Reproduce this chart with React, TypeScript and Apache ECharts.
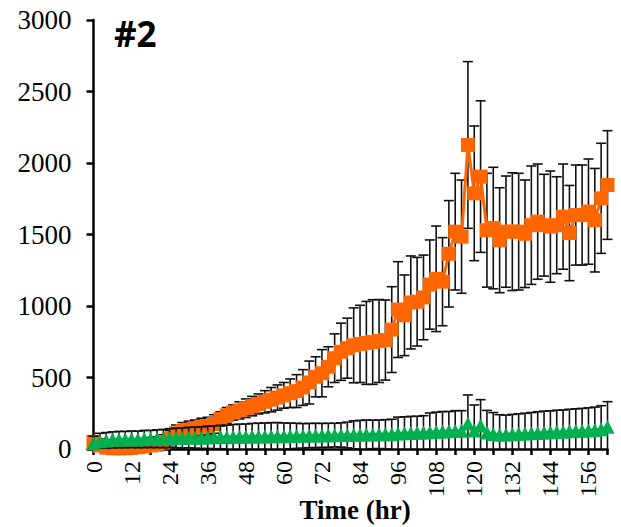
import React, { useEffect, useRef } from 'react';
import * as echarts from 'echarts';

const hours = [
  0, 2, 4, 6, 8, 10, 12, 14, 16, 18,
  20, 22, 24, 26, 28, 30, 32, 34, 36, 38,
  40, 42, 44, 46, 48, 50, 52, 54, 56, 58,
  60, 62, 64, 66, 68, 70, 72, 74, 76, 78,
  80, 82, 84, 86, 88, 90, 92, 94, 96, 98,
  100, 102, 104, 106, 108, 110, 112, 114, 116, 118,
  120, 122, 124, 126, 128, 130, 132, 134, 136, 138,
  140, 142, 144, 146, 148, 150, 152, 154, 156, 158,
  160, 162,
];

const orangeMean = [
  50, 25, 10, 5, 5, 5, 8, 12, 18, 25,
  30, 45, 70, 110, 125, 135, 145, 155, 160, 175,
  210, 235, 255, 270, 285, 300, 315, 330, 345, 360,
  375, 390, 405, 430, 465, 505, 530, 575, 635, 680,
  705, 725, 735, 742, 748, 755, 762, 835, 975, 935,
  1025, 1030, 1060, 1150, 1190, 1170, 1365, 1520, 1485, 2126,
  1788, 1905, 1530, 1545, 1460, 1520, 1520, 1520, 1505, 1565,
  1590, 1565, 1555, 1565, 1625, 1510, 1636, 1636, 1660, 1600,
  1753, 1846,
];

const orangeSD = [
  40, 45, 48, 50, 50, 52, 52, 55, 55, 55,
  55, 55, 58, 58, 60, 60, 58, 60, 62, 65,
  50, 55, 53, 60, 65, 68, 70, 78, 85, 88,
  90, 100, 115, 125, 150, 140, 165, 140, 170, 200,
  210, 262, 270, 290, 296, 290, 280, 300, 335, 282,
  325, 310, 296, 312, 369, 308, 372, 408, 396, 583,
  471, 530, 398, 425, 367, 389, 412, 408, 376, 414,
  403, 356, 389, 339, 368, 333, 350, 350, 368, 362,
  385, 380,
];

const greenMean = [
  40, 55, 60, 64, 66, 66, 68, 67, 70, 70,
  72, 73, 76, 78, 77, 80, 80, 79, 82, 82,
  84, 83, 85, 86, 85, 87, 88, 88, 89, 90,
  90, 91, 92, 92, 94, 95, 95, 96, 97, 98,
  98, 99, 100, 101, 102, 103, 103, 104, 108, 110,
  112, 113, 115, 117, 120, 122, 124, 126, 128, 178,
  130, 165, 115, 105, 100, 102, 104, 106, 108, 110,
  112, 115, 117, 119, 121, 124, 126, 128, 130, 133,
  138, 155,
];

const greenSD = [
  50, 55, 55, 56, 57, 57, 58, 58, 60, 60,
  62, 64, 66, 68, 70, 72, 74, 76, 78, 80,
  82, 84, 86, 88, 90, 92, 93, 94, 95, 95,
  92, 90, 88, 86, 85, 85, 84, 84, 83, 85,
  90, 98, 100, 102, 100, 100, 102, 104, 115, 115,
  116, 116, 118, 135, 138, 140, 138, 142, 140, 200,
  178, 180, 155, 150, 140, 135, 138, 140, 142, 145,
  148, 150, 150, 152, 152, 154, 155, 156, 158, 160,
  165, 176,
];

const errData = (m: number[], s: number[]) => hours.map((h, i) => [h, m[i], s[i]]);
const lineData = (m: number[]) => hours.map((h, i) => [h, m[i]]);

const renderErr = (_params: any, api: any) => {
  const x = api.value(0);
  const m = api.value(1);
  const s = api.value(2);
  const top = api.coord([x, m + s]);
  const lowVal = m - s;
  const bot = api.coord([x, Math.max(lowVal, 0)]);
  const half = 5;
  const style = { stroke: '#111', lineWidth: 1.6 };
  const children: any[] = [
    { type: 'line', shape: { x1: top[0], y1: top[1], x2: bot[0], y2: bot[1] }, style },
    { type: 'line', shape: { x1: top[0] - half, y1: top[1], x2: top[0] + half, y2: top[1] }, style },
  ];
  if (lowVal > 0) {
    children.push({ type: 'line', shape: { x1: bot[0] - half, y1: bot[1], x2: bot[0] + half, y2: bot[1] }, style });
  }
  return { type: 'group', children };
};

export default function App() {
  const ref = useRef<HTMLDivElement>(null);
  useEffect(() => {
    if (!ref.current) return;
    const chart = echarts.init(ref.current, null, { renderer: 'svg' });
    const serif = 'Liberation Serif';
    chart.setOption({
      animation: false,
      backgroundColor: '#fff',
      grid: { left: 93.5, right: 13.5, top: 20, bottom: 78, containLabel: false, outerBoundsMode: 'none' },
      xAxis: {
        type: 'value',
        min: 0,
        max: 162,
        interval: 6,
        splitLine: { show: false },
        axisLine: { lineStyle: { color: '#000', width: 2.5 } },
        axisTick: { length: 6, lineStyle: { color: '#000', width: 2.5 } },
        axisLabel: {
          rotate: 90,
          formatter: (v: number) => (v % 12 === 0 ? String(v) : ''),
          fontFamily: serif,
          fontSize: 24,
          color: '#000',
          margin: 12,
        },
      },
      yAxis: {
        type: 'value',
        min: 0,
        max: 3000,
        interval: 500,
        splitLine: { show: false },
        axisLine: { show: true, lineStyle: { color: '#000', width: 2.5 } },
        axisTick: { show: true, length: 7, lineStyle: { color: '#000', width: 2.5 } },
        axisLabel: {
          formatter: (v: number) => String(v),
          fontFamily: serif,
          fontSize: 27,
          color: '#000',
          margin: 22,
        },
      },
      series: [
        {
          type: 'custom',
          renderItem: renderErr,
          data: errData(orangeMean, orangeSD),
          encode: { x: 0, y: 1 },
          z: 1,
        },
        {
          type: 'line',
          data: lineData(orangeMean),
          symbol: 'rect',
          symbolSize: 14,
          lineStyle: { color: '#FF6600', width: 3 },
          itemStyle: { color: '#FF6600' },
          z: 2,
        },
        {
          type: 'custom',
          renderItem: renderErr,
          data: errData(greenMean, greenSD),
          encode: { x: 0, y: 1 },
          z: 3,
        },
        {
          type: 'line',
          data: lineData(greenMean),
          symbol: 'triangle',
          symbolSize: [14, 14],
          lineStyle: { color: '#00B050', width: 3 },
          itemStyle: { color: '#00B050' },
          z: 4,
        },
      ],
      graphic: [
        {
          type: 'text',
          left: 114,
          top: 16,
          style: { text: '#2', font: 'bold 35px "Open Sans"', fill: '#000' },
        },
        {
          type: 'text',
          x: 355,
          y: 510,
          style: {
            text: 'Time (hr)',
            font: 'bold 27px "Liberation Serif"',
            fill: '#000',
            align: 'center',
            verticalAlign: 'middle',
          },
        },
      ],
    });
    return () => chart.dispose();
  }, []);
  return <div ref={ref} style={{ position: 'fixed', left: 0, top: 0, width: 621, height: 527 }} />;
}
